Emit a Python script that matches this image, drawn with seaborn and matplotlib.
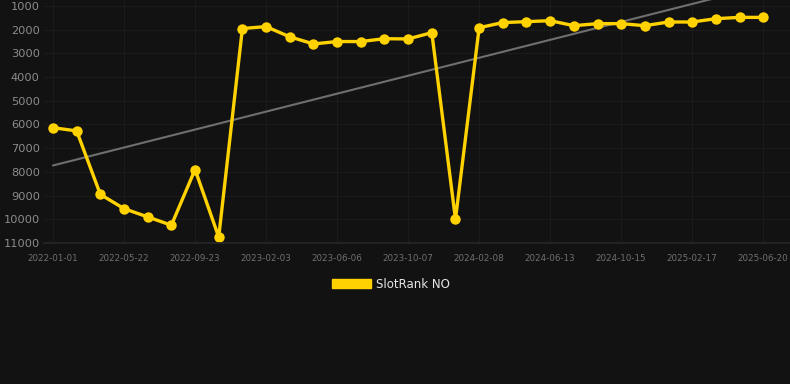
import matplotlib
matplotlib.use("Agg")
import matplotlib.pyplot as plt
import matplotlib.patches as mpatches
import numpy as np
import pandas as pd
import seaborn as sns

# rank values, one per snapshot
ranks = [6135, 6270, 8950, 9550, 9900, 10250, 7900, 10750, 1950, 1870,
         2300, 2600, 2500, 2500, 2380, 2390, 2125, 10000, 1915, 1700,
         1660, 1620, 1830, 1745, 1745, 1830, 1675, 1675, 1535, 1480, 1480]
tick_labels = ["2022-01-01", "2022-05-22", "2022-09-23", "2023-02-03",
               "2023-06-06", "2023-10-07", "2024-02-08", "2024-06-13",
               "2024-10-15", "2025-02-17", "2025-06-20"]
y_ticks = [1000, 2000, 3000, 4000, 5000, 6000, 7000, 8000, 9000, 10000, 11000]
series_name = "SlotRank NO"

BG = "#121212"
GOLD = "#FFD200"
GRID = "#1b1b1b"

df = pd.DataFrame({"idx": np.arange(len(ranks)), "rank": ranks})

sns.set_theme(style="dark", rc={
    "axes.facecolor": BG,
    "figure.facecolor": BG,
    "axes.edgecolor": BG,
    "grid.color": GRID,
    "axes.grid": True,
})
plt.rcParams["font.family"] = ["DejaVu Sans"]

fig = plt.figure(figsize=(7.9, 3.84), dpi=100)
ax = fig.add_axes([44 / 790, 1 - 243 / 384, 1 - 44 / 790, 243 / 384])

sns.regplot(data=df, x="idx", y="rank", scatter=False, ci=None, truncate=True,
            color="#6f6f6f", line_kws={"linewidth": 1.5}, ax=ax)
sns.lineplot(data=df, x="idx", y="rank", color=GOLD, linewidth=2.4,
             marker="o", markersize=7.5, markeredgewidth=0, ax=ax)

ax.set_xlim(-0.38, 31.13)
ax.set_ylim(11000, 747)
ax.set_yticks(y_ticks)
ax.set_yticklabels([str(v) for v in y_ticks], color="#8c8c8c", fontsize=8.2)
ax.set_xticks(np.arange(0, len(ranks), 3))
ax.set_xticklabels(tick_labels, color="#707070", fontsize=6.3)
ax.tick_params(axis="y", length=0, pad=3)
ax.tick_params(axis="x", length=4, color="#262626", pad=4)
ax.set_xlabel("")
ax.set_ylabel("")
ax.grid(True, color=GRID, linewidth=0.8)
ax.spines["bottom"].set_visible(True)
ax.spines["bottom"].set_color("#262626")
for s in ["top", "right", "left"]:
    ax.spines[s].set_visible(False)

handle = mpatches.Patch(color=GOLD, label=series_name)
fig.legend(handles=[handle], loc="center", bbox_to_anchor=(391 / 790, 1 - 284 / 384),
           frameon=False, fontsize=8.5, labelcolor="#e6e6e6",
           handlelength=3.3, handleheight=0.9, handletextpad=0.5)

fig.savefig("out.png", dpi=100, facecolor=BG)
